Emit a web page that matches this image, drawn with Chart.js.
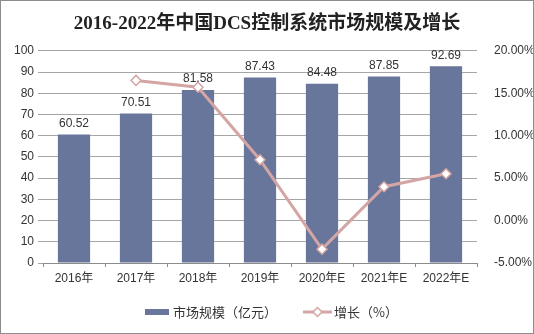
<!DOCTYPE html>
<html>
<head>
<meta charset="utf-8">
<script src="https://cdn.jsdelivr.net/npm/chart.js@4/dist/chart.umd.min.js"></script>
<style>
  html, body { margin: 0; padding: 0; background: #fff; }
  #wrap { width: 534px; height: 334px; position: relative; }
</style>
</head>
<body>
<div id="wrap"><canvas id="c" width="534" height="334"></canvas></div>
<script>
// DCS control system market in China, 2016-2022
const categories = ['2016年', '2017年', '2018年', '2019年', '2020年E', '2021年E', '2022年E'];
const marketSize = [60.52, 70.51, 81.58, 87.43, 84.48, 87.85, 92.69];   // 亿元
const growthRate = [null, 16.51, 15.70, 7.17, -3.37, 3.99, 5.51];        // %
const leftTicks = [0, 10, 20, 30, 40, 50, 60, 70, 80, 90, 100];
const rightTicks = [-5, 0, 5, 10, 15, 20];
const seriesNames = ['市场规模（亿元）', '增长（%）'];

const BAR_COLOR = '#68769b';
const LINE_COLOR = '#d4a5a5';
const GRID_COLOR = '#a6a6a6';
const TEXT_COLOR = '#333333';
const SANS = '"Liberation Sans", Arial, "Noto Sans CJK SC", sans-serif';
const CJK = '"Noto Sans CJK SC", sans-serif';

// value labels above the bars
const barLabels = {
  id: 'barLabels',
  afterDatasetsDraw(chart) {
    const ctx = chart.ctx;
    const meta = chart.getDatasetMeta(1);
    ctx.save();
    ctx.font = '12px ' + SANS;
    ctx.fillStyle = TEXT_COLOR;
    ctx.textAlign = 'center';
    ctx.textBaseline = 'bottom';
    meta.data.forEach((bar, i) => {
      ctx.fillText(marketSize[i].toFixed(2), bar.x, bar.y - 5);
    });
    ctx.restore();
  }
};

// legend row under the axis: bar swatch + name, line swatch with diamond + name
const bottomLegend = {
  id: 'bottomLegend',
  afterDraw(chart) {
    const ctx = chart.ctx;
    const cy = 312;
    ctx.save();
    ctx.font = '13px ' + CJK;
    ctx.fillStyle = TEXT_COLOR;
    ctx.textBaseline = 'middle';
    ctx.textAlign = 'left';

    const x0 = 145;
    ctx.fillStyle = BAR_COLOR;
    ctx.fillRect(x0, cy - 3, 24, 6);
    ctx.fillStyle = TEXT_COLOR;
    ctx.fillText(seriesNames[0], x0 + 28, cy);

    const x1 = 303;
    ctx.strokeStyle = LINE_COLOR;
    ctx.lineWidth = 3;
    ctx.beginPath(); ctx.moveTo(x1, cy); ctx.lineTo(x1 + 29, cy); ctx.stroke();
    const dx = x1 + 14.5;
    ctx.fillStyle = '#fff';
    ctx.lineWidth = 1.5;
    ctx.beginPath();
    ctx.moveTo(dx, cy - 4.5); ctx.lineTo(dx + 4.5, cy); ctx.lineTo(dx, cy + 4.5); ctx.lineTo(dx - 4.5, cy); ctx.closePath();
    ctx.fill(); ctx.stroke();
    ctx.fillStyle = TEXT_COLOR;
    ctx.fillText(seriesNames[1], x1 + 31, cy);
    ctx.restore();
  }
};

const frame = {
  id: 'frame',
  beforeDraw(chart) {
    const ctx = chart.ctx;
    ctx.save();
    ctx.fillStyle = '#fff';
    ctx.fillRect(0, 0, chart.width, chart.height);
    ctx.restore();
  },
  afterDraw(chart) {
    const ctx = chart.ctx;
    ctx.save();
    ctx.strokeStyle = '#8c8c8c';
    ctx.lineWidth = 1;
    ctx.strokeRect(0.5, 0.5, chart.width - 1, chart.height - 1);
    ctx.restore();
  }
};

new Chart(document.getElementById('c'), {
  data: {
    labels: categories,
    datasets: [
      {
        type: 'line',
        label: seriesNames[1],
        data: growthRate,
        yAxisID: 'yR',
        borderColor: LINE_COLOR,
        borderWidth: 3,
        pointStyle: 'rectRot',
        pointRadius: 5,
        pointBorderWidth: 1.5,
        pointBackgroundColor: '#fff',
        pointBorderColor: LINE_COLOR,
        tension: 0,
        order: 0
      },
      {
        type: 'bar',
        label: seriesNames[0],
        data: marketSize,
        yAxisID: 'y',
        backgroundColor: BAR_COLOR,
        barPercentage: 0.52,
        categoryPercentage: 1,
        order: 1
      }
    ]
  },
  options: {
    responsive: false,
    animation: false,
    layout: { padding: { left: 0, right: 0, top: 0, bottom: 36 } },
    plugins: {
      tooltip: { enabled: false },
      legend: { display: false },
      title: {
        display: true,
        text: '2016-2022年中国DCS控制系统市场规模及增长',
        color: '#222',
        font: { family: '"Liberation Serif", "Noto Sans CJK SC", serif', size: 19, weight: 'bold' },
        padding: { top: 13, bottom: 15 }
      }
    },
    scales: {
      x: {
        offset: true,
        grid: { display: true, offset: true, drawOnChartArea: false, drawTicks: true, tickLength: 4, color: '#8c8c8c' },
        border: { display: true, color: '#8c8c8c' },
        ticks: { color: TEXT_COLOR, font: { family: SANS, size: 12 }, padding: 4, maxRotation: 0 },
        afterFit(s) { s.height = 35; }
      },
      y: {
        position: 'left',
        min: 0, max: 100,
        afterBuildTicks(s) { s.ticks = leftTicks.map(v => ({ value: v })); },
        grid: { color: GRID_COLOR, drawTicks: true, tickLength: 5 },
        border: { display: false },
        ticks: { color: TEXT_COLOR, font: { family: SANS, size: 12 }, padding: 4 },
        afterFit(s) { s.width = 43; }
      },
      yR: {
        position: 'right',
        min: -5, max: 20,
        afterBuildTicks(s) { s.ticks = rightTicks.map(v => ({ value: v })); },
        grid: { display: false, drawOnChartArea: false },
        border: { display: false },
        ticks: {
          color: TEXT_COLOR, font: { family: SANS, size: 12 }, padding: 9,
          callback: v => v.toFixed(2) + '%'
        },
        afterFit(s) { s.width = 57; }
      }
    }
  },
  plugins: [frame, barLabels, bottomLegend]
});
</script>
</body>
</html>
